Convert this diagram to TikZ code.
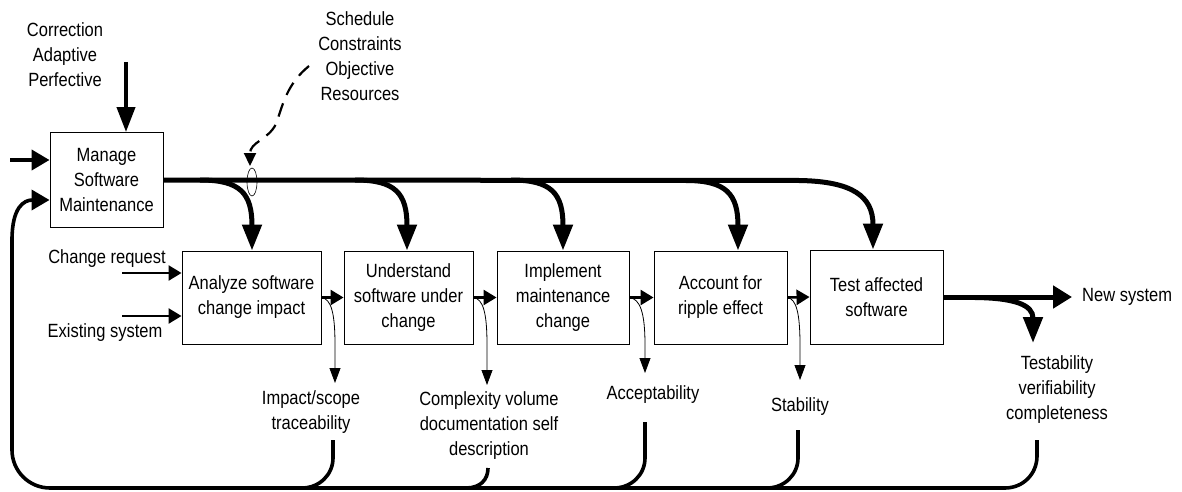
\documentclass[tikz,border=0pt]{standalone}
\usepackage{fontspec}
\usepackage{graphicx}
\setmainfont{Liberation Sans}
\usetikzlibrary{arrows.meta,shapes.geometric}
\newcommand\vs[1]{\scalebox{1}[1.16]{#1}}
\begin{document}
\begin{tikzpicture}[x=1pt,y=-1pt,
 box/.style={draw, line width=0.9pt, inner sep=0, align=center, font=\fontsize{16.5}{25}\selectfont},
 lbl/.style={font=\fontsize{16.5}{25}\selectfont, align=center, inner sep=0},
 bus/.style={line width=5pt},
 fb/.style={line width=3.6pt},
 bigarr/.style={-{Triangle[length=26pt,width=19pt]}},
 midarr/.style={line width=2.6pt,-{Triangle[length=13pt,width=15pt]}},
 outarr/.style={line width=0.8pt,-{Triangle[length=15pt,width=11pt]}},
]
\useasboundingbox (0,0) rectangle (1182,492);

% boxes
\node[box, minimum width=113pt, minimum height=95pt] (m) at (106.5,180) {\vs{Manage}\\\vs{Software}\\\vs{Maintenance}};
\node[box, minimum width=139pt, minimum height=93pt] (a) at (251.5,297.5) {\vs{Analyze software}\\\vs{change impact}};
\node[box, minimum width=129pt, minimum height=93pt] (u) at (408.5,297.5) {\vs{Understand}\\\vs{software under}\\\vs{change}};
\node[box, minimum width=132pt, minimum height=93pt] (i) at (563,297.5) {\vs{Implement}\\\vs{maintenance}\\\vs{change}};
\node[box, minimum width=133pt, minimum height=93pt] (ac) at (720.5,297.5) {\vs{Account for}\\\vs{ripple effect}};
\node[box, minimum width=133pt, minimum height=94pt] (t) at (876.5,297) {\vs{Test affected}\\\vs{software}};

% labels
\node[lbl] (cap) at (65,55) {\vs{Correction}\\\vs{Adaptive}\\\vs{Perfective}};
\node[lbl] (sch) at (360,56) {\vs{Schedule}\\\vs{Constraints}\\\vs{Objective}\\\vs{Resources}};
\node[lbl] (cr) at (107,259) {\vs{Change request}};
\node[lbl] (es) at (105,333) {\vs{Existing system}};
\node[lbl] (l1) at (311,412) {\vs{Impact/scope}\\\vs{traceability}};
\node[lbl] (l2) at (489,426) {\vs{Complexity volume}\\\vs{documentation self}\\\vs{description}};
\node[lbl] (l3) at (653,395) {\vs{Acceptability}};
\node[lbl] (l4) at (800,407) {\vs{Stability}};
\node[lbl] (l5) at (1057,390) {\vs{Testability}\\\vs{verifiability}\\\vs{completeness}};
\node[lbl, anchor=west] (ns) at (1082,297) {\vs{New system}};

% inputs to Manage
\coordinate (ctop) at (126,62);
\draw[line width=4pt, -{Triangle[length=25pt,width=18pt]}] (ctop) -- (ctop |- m.north);
\coordinate (cin) at (10,160);
\draw[line width=4pt, -{Triangle[length=18pt,width=20pt]}] (cin) -- (cin -| m.west);

% inputs to Analyze
\coordinate (cr1) at (122,273);
\coordinate (es1) at (122,316);
\draw[line width=2.4pt, -{Triangle[length=13pt,width=15pt]}] (cr1) -- (cr1 -| a.west);
\draw[line width=2.4pt, -{Triangle[length=13pt,width=15pt]}] (es1) -- (es1 -| a.west);

% bus and branches
\draw[bus, bigarr] (m.east) -- (800,180.5) .. controls (852,181.5) and (873,196) .. (873,0 |- t.north);
\draw[bus, bigarr] (200,180) .. controls (240,180) and (252,193) .. (252,0 |- a.north);
\draw[bus, bigarr] (355,180) .. controls (395,180) and (407,193) .. (407,0 |- u.north);
\draw[bus, bigarr] (511,180) .. controls (551,180) and (563,193) .. (563,0 |- i.north);
\draw[bus, bigarr] (686,180.5) .. controls (726,180.5) and (738,194) .. (738,0 |- ac.north);

% constraints dashed arrow and ellipse
\coordinate (ds) at (309,66);
\coordinate (de) at (250,166);
\draw[line width=2.2pt, dash pattern=on 14pt off 9pt, -{Triangle[length=13pt,width=12pt]}] (ds) .. controls (287,84) and (283,104) .. (276,124) .. controls (268,140) and (250,142) .. (de);
\node[draw, line width=0.6pt, ellipse, minimum width=10pt, minimum height=28pt, inner sep=0] (el) at (252,182) {};

% box-to-box arrows
\draw[midarr] (a.east) -- (u.west);
\draw[midarr] (u.east) -- (i.west);
\draw[midarr] (i.east) -- (ac.west);
\draw[midarr] (ac.east) -- (t.west);

% thin outputs
\draw[outarr] (a.east) .. controls (331,299) and (335,312) .. (335,345) -- (335,383);
\draw[outarr] (u.east) .. controls (483,299) and (487,312) .. (487,345) -- (487,385);
\draw[outarr] (i.east) .. controls (640,299) and (645,312) .. (645,345) -- (645,373);
\draw[outarr] (ac.east) .. controls (796,299) and (800,312) .. (800,345) -- (800,380);

% test outputs
\draw[bus, -{Triangle[length=19pt,width=22pt]}] (t.east) -- ([xshift=-10pt]ns.west);
\draw[bus, bigarr] (975,297.5) .. controls (1015,298) and (1033,305) .. (1033,343);

% feedback loop
\draw[fb, -{Triangle[length=18pt,width=20pt]}] (1037,440) -- (1037,456) .. controls (1037,474) and (1023,488) .. (1005,488) -- (50,488) .. controls (29,488) and (12,471) .. (12,450) -- (12,240) .. controls (12,207) and (24,200) .. ([yshift=-20pt]m.west);
\draw[fb] (333,440) -- (333,458) .. controls (333,475) and (319,488) .. (302,488);
\draw[fb] (488,468) .. controls (488,480) and (480,488) .. (466,488);
\draw[fb] (645,422) -- (645,458) .. controls (645,475) and (631,488) .. (614,488);
\draw[fb] (798,430) -- (798,458) .. controls (798,475) and (784,488) .. (767,488);
\end{tikzpicture}
\end{document}
